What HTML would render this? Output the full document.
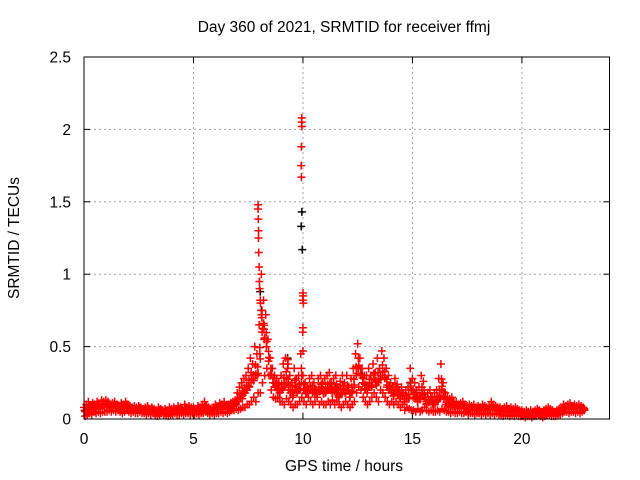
<!DOCTYPE html>
<html><head><meta charset="utf-8">
<style>
body{margin:0;background:#fff;}
svg{display:block;font-family:"Liberation Sans",sans-serif;}
</style></head>
<body>
<svg id="chart" width="640" height="480">
<text x="344" y="32" text-anchor="middle" font-size="15.5">Day 360 of 2021, SRMTID for receiver ffmj</text>
<text transform="translate(19,238) rotate(-90)" text-anchor="middle" font-size="15.5">SRMTID / TECUs</text>
<text x="344" y="471" text-anchor="middle" font-size="15.5">GPS time / hours</text>
<g id="grid"></g>
<g id="ticks"></g>
<g id="black"></g>
<g id="red"></g>
<rect x="84" y="57" width="525.5" height="362" fill="none" stroke="#000" stroke-width="1"/>
</svg>
<script>
const xTicks=[0,5,10,15,20];
const yTicks=[0,0.5,1,1.5,2,2.5];
const yTickLabels=["0","0.5","1","1.5","2","2.5"];
const hiVals=[.08,.1,.12,.09,.11,.1,.12,.1,.13,.12,
.13,.12,.1,.11,.12,.1,.09,.11,.1,.12,
.1,.09,.08,.09,.08,.09,.08,.07,.08,.09,
.07,.08,.07,.06,.08,.07,.06,.07,.06,.08,
.07,.08,.07,.09,.08,.07,.1,.08,.09,.08,
.08,.07,.09,.08,.1,.12,.09,.08,.07,.08,
.1,.09,.11,.1,.12,.09,.1,.11,.12,.13,
.18,.22,.25,.28,.3,.35,.42,.38,.5,.45,
.65,1.0,.82,.72,.55,.42,.35,.3,.28,.25,
.3,.38,.42,.35,.3,.25,.35,.28,.3,.45,
.3,.25,.22,.28,.3,.25,.2,.28,.3,.25,
.28,.3,.32,.25,.28,.3,.22,.26,.3,.25,
.3,.22,.28,.35,.45,.52,.42,.35,.3,.3,
.35,.3,.38,.32,.42,.35,.47,.42,.35,.3,
.25,.22,.28,.24,.2,.22,.18,.2,.22,.35,
.28,.25,.2,.22,.3,.26,.15,.18,.2,.15,
.18,.2,.28,.38,.25,.18,.15,.14,.15,.12,
.12,.1,.11,.12,.1,.09,.1,.09,.1,.08,
.09,.08,.1,.09,.08,.09,.12,.1,.09,.08,
.08,.07,.08,.09,.07,.08,.07,.08,.07,.06,
.06,.05,.06,.05,.06,.05,.06,.07,.06,.05,
.06,.07,.08,.07,.06,.05,.06,.07,.08,.1,
.09,.1,.11,.09,.1,.09,.1,.09,.08];
const loVals=[.02,.03,.04,.03,.05,.04,.05,.04,.05,.05,
.05,.06,.05,.06,.05,.06,.05,.04,.05,.06,
.05,.04,.05,.04,.04,.05,.04,.04,.03,.04,
.03,.04,.03,.02,.03,.04,.03,.03,.02,.03,
.03,.04,.03,.03,.04,.03,.04,.04,.03,.04,
.03,.04,.03,.04,.04,.05,.04,.03,.04,.03,
.04,.04,.05,.04,.05,.04,.05,.06,.06,.07,
.06,.07,.08,.08,.1,.1,.12,.15,.12,.18,
.18,.25,.3,.35,.3,.2,.15,.14,.15,.12,
.12,.1,.14,.12,.1,.08,.1,.1,.12,.15,
.12,.1,.15,.12,.1,.12,.15,.1,.12,.1,
.1,.12,.1,.13,.1,.12,.1,.08,.1,.12,
.1,.08,.1,.12,.18,.22,.2,.15,.12,.1,
.12,.15,.18,.15,.12,.2,.18,.15,.12,.1,
.12,.1,.12,.1,.08,.1,.06,.08,.07,.06,
.06,.05,.07,.05,.06,.08,.06,.05,.06,.05,
.05,.06,.05,.07,.06,.05,.05,.04,.05,.04,
.04,.05,.04,.04,.05,.03,.04,.04,.03,.04,
.04,.03,.04,.03,.04,.03,.04,.03,.04,.03,
.03,.02,.03,.03,.02,.03,.02,.03,.02,.02,
.02,.01,.02,.02,.01,.02,.02,.03,.02,.01,
.02,.03,.03,.02,.02,.02,.03,.03,.04,.05,
.05,.04,.05,.05,.04,.05,.04,.05,.06];
const midStart=7.0;
const midVals=[.12,.15,.14,.18,.2,.22,.25,.28,.3,.3,
.45,.6,.55,.5,.4,.3,.25,.22,.2,.18,
.2,.22,.25,.2,.18,.15,.2,.18,.2,.25,
.2,.18,.18,.2,.18,.18,.17,.2,.2,.18,
.18,.2,.2,.18,.2,.18,.15,.17,.2,.18,
.2,.15,.18,.22,.3,.35,.3,.25,.2,.18,
.22,.22,.28,.25,.25,.28,.3,.28,.22,.2,
.18,.16,.2,.17,.14,.16,.12,.14,.14,.2,
.15,.14,.12,.14,.18,.15,.1,.12,.12,.1,
.1,.12,.15,.2,.14,.1,.09,.08,.09,.08];
const spikeT=[7.95,7.95,7.96,7.97,7.97,7.98,8.0,8.01,8.02,8.05,8.06,8.1,8.12,8.2,8.22,9.95,9.94,9.95,9.93,9.92,9.93,10.0,10.01,9.99,10.02,10.0,9.99,10.0,9.3,9.32];
const spikeV=[1.48,1.45,1.38,1.3,1.25,1.15,1.05,0.95,0.9,0.82,0.8,0.72,0.7,0.66,0.62,2.08,2.05,2.02,1.88,1.75,1.67,0.87,0.85,0.82,0.8,0.63,0.6,0.47,0.41,0.38];
const blackT=[9.95,9.92,9.97,8.05,8.1,9.3,7.2,14.9,12.7,11.5];
const blackV=[1.43,1.33,1.17,0.88,0.75,0.42,0.25,0.25,0.3,0.22];

const X0=84,X1=609.5,Y0=419,Y1=57,XMAX=24,YMAX=2.5;
const sx=t=>X0+(X1-X0)*t/XMAX;
const sy=v=>Y0-(Y0-Y1)*v/YMAX;
const NS="http://www.w3.org/2000/svg";
function mk(tag,attrs,parent){const e=document.createElementNS(NS,tag);for(const k in attrs)e.setAttribute(k,attrs[k]);parent.appendChild(e);return e;}
const grid=document.getElementById('grid'),ticks=document.getElementById('ticks');
xTicks.forEach(t=>{
  const x=sx(t);
  if(t>0){const g=mk('line',{x1:x,x2:x,y1:Y1,y2:Y0,stroke:'#a0a0a0','stroke-dasharray':'2,3'},grid);
  
  }
  mk('line',{x1:x,x2:x,y1:Y0,y2:Y0-6,stroke:'#000'},ticks);
  mk('line',{x1:x,x2:x,y1:Y1,y2:Y1+6,stroke:'#000'},ticks);
  const l=mk('text',{x:x,y:444,'text-anchor':'middle','font-size':15.5},ticks);
  l.textContent=String(t);
  
  
});
yTicks.forEach((v,i)=>{
  const y=sy(v);
  if(v>0&&v<YMAX){const g=mk('line',{x1:X0,x2:X1,y1:y,y2:y,stroke:'#a0a0a0','stroke-dasharray':'2,3'},grid);
  
  }
  mk('line',{x1:X0,x2:X0+6,y1:y,y2:y,stroke:'#000'},ticks);
  mk('line',{x1:X1,x2:X1-6,y1:y,y2:y,stroke:'#000'},ticks);
  const l=mk('text',{x:71,y:y+5.5,'text-anchor':'end','font-size':15.5},ticks);
  l.textContent=yTickLabels[i];
  
  
});
function cross(t,v,color,parent){
  const x=sx(t),y=sy(v);
  const p=mk('path',{d:`M${x-4},${y}h8M${x},${y-4}v8`,stroke:color,'stroke-width':1.5,fill:'none'},parent);
  
  
}
const red=document.getElementById('red'),black=document.getElementById('black');
blackT.forEach((t,i)=>cross(t,blackV[i],'#000',black));
hiVals.forEach((v,i)=>{const t=i*0.1;cross(t,v,'#f00',red);cross(t+0.05,loVals[i],'#f00',red);cross(t+0.05,(v+loVals[i])/2,'#f00',red);cross(t+0.03,(2*v+loVals[i])/3,'#f00',red);});
midVals.forEach((v,i)=>cross(midStart+i*0.1+0.03,v,'#f00',red));
spikeT.forEach((t,i)=>cross(t,spikeV[i],'#f00',red));
</script>
</body></html>
